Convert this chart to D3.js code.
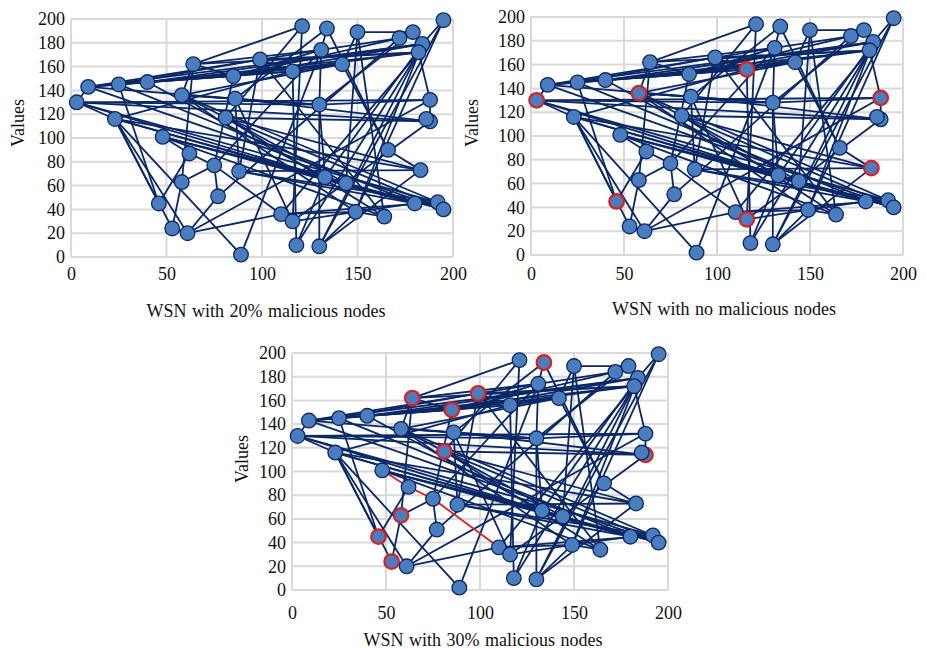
<!DOCTYPE html>
<html><head><meta charset="utf-8">
<script src="https://cdn.jsdelivr.net/npm/d3@7"></script>
<style>
body{margin:0;background:#fff}
svg{display:block}
text{font-family:"Liberation Serif","Times New Roman",serif;fill:#111}
</style>
</head><body>
<svg id="c" width="926" height="649"></svg>
<script>
// Node coordinates (ids 1..49)
const nodeX = [121,134,150,172,179,195,184,182,131,142, 99,64,116,85,40,25,9,3,58,86, 130,188,23,81,188,48,166,62,75,88, 183,133,144,58,77,46,180,192,195,110, 116,149,164,53,61,118,130,89,186];
const nodeY = [194,192,189,184,189,199,179,172,174,162, 166,162,156,152,147,145,143,130,136,133, 128,132,116,117,114,101,90,87,77,72, 73,67,62,63,51,45,45,46,40,36, 30,38,34,24,20,10,9,2,116];
// Links between node ids
const edges = [
 [1,12],[1,41],[1,24],[2,9],[2,27],[2,20],[3,5],[3,10],[3,33],[4,5],[4,9],[4,35],
 [5,7],[5,21],[6,7],[6,47],[6,42],[7,14],[7,17],[7,32],[8,22],[8,11],[8,15],[8,46],[8,40],
 [9,21],[9,14],[9,48],[10,13],[10,27],[10,19],[11,13],[11,30],[11,43],[12,19],[12,14],
 [13,46],[13,23],[14,15],[14,29],[15,16],[15,32],[15,7],[16,17],[16,37],[16,36],[16,10],
 [17,18],[17,20],[17,39],[17,13],[18,23],[18,38],[18,33],[18,25],[18,22],[18,21],
 [19,24],[19,42],[19,20],[20,21],[20,41],[21,22],[21,47],[22,25],[22,45],
 [23,36],[23,44],[23,45],[23,48],[23,37],[24,25],[24,31],[24,43],[25,41],[25,49],
 [26,28],[26,39],[26,43],[27,31],[28,29],[29,40],[28,36],[29,35],[29,9],[30,38],[30,31],
 [32,33],[32,37],[32,46],[33,39],[33,37],[34,29],[34,44],[34,12],[35,45],
 [37,38],[37,42],[38,39],[38,40],[40,41],[40,45],[40,42],[41,42],[42,43],[42,7],
 [44,45],[47,42],[47,8],[31,47],[3,43],
 [15,13],[16,11],[17,9],[19,21],[20,25],[12,8],[14,4],[24,33],[26,32],[26,37],
 [23,31],[19,38],[30,37],[20,30],[21,32],[12,9],[14,8],[15,10],[24,39],[23,32]
];
const malicious20 = [];
const maliciousNone = [18,19,13,22,31,36,41];
const malicious30 = [2,12,11,14,24,25,34,36,44];
const route30 = [[26,28],[28,29],[29,40]];
const xTicks = [0,50,100,150,200];
const yTicks = [0,20,40,60,80,100,120,140,160,180,200];
const titles = ["WSN with 20% malicious nodes","WSN with no malicious nodes","WSN with 30% malicious nodes"];

const panels = [
 {left:71,right:453,top:19,bottom:257,titleX:266,titleY:311,tickY:274,valX:18,valY:123,mal:malicious20,route:[]},
 {left:531,right:903,top:17,bottom:255,titleX:724,titleY:309,tickY:274,valX:472,valY:123,mal:maliciousNone,route:[]},
 {left:292,right:668,top:353,bottom:590,titleX:483,titleY:640,tickY:613,valX:242,valY:459,mal:malicious30,route:route30}
];

const svg = d3.select("#c");
const navy = "#0a2766", fillBlue = "#4a7dbd", red = "#dd1f1f", grid = "#d9d9d9";

panels.forEach((p,i)=>{
  const g = svg.append("g");
  const x = d3.scaleLinear().domain([0,200]).range([p.left,p.right]);
  const y = d3.scaleLinear().domain([0,200]).range([p.bottom,p.top]);
  g.selectAll(".gx").data(xTicks).join("line")
    .attr("x1",d=>x(d)).attr("x2",d=>x(d)).attr("y1",p.top).attr("y2",p.bottom)
    .attr("stroke",grid).attr("stroke-width",2);
  g.selectAll(".gy").data(yTicks).join("line")
    .attr("x1",p.left).attr("x2",p.right).attr("y1",d=>y(d)).attr("y2",d=>y(d))
    .attr("stroke",grid).attr("stroke-width",2);
  const ax = g.append("g").attr("transform",`translate(0,${p.tickY})`)
    .call(d3.axisBottom(x).tickValues(xTicks).tickSize(0).tickPadding(0));
  ax.select(".domain").remove();
  ax.selectAll("text").attr("font-size",18).attr("dy","0.35em").attr("y",0)
    .style("font-family",'"Liberation Serif",serif').attr("fill","#111");
  const ay = g.append("g").attr("transform",`translate(${p.left-6},0)`)
    .call(d3.axisLeft(y).tickValues(yTicks).tickSize(0).tickPadding(0));
  ay.select(".domain").remove();
  ay.selectAll("text").attr("font-size",18).attr("x",0)
    .style("font-family",'"Liberation Serif",serif').attr("fill","#111");
  g.append("text").attr("transform",`translate(${p.valX},${p.valY}) rotate(-90)`)
    .attr("text-anchor","middle").attr("dominant-baseline","central")
    .attr("font-size",18).text("Values");
  g.append("text").attr("x",p.titleX).attr("y",p.titleY).attr("text-anchor","middle")
    .attr("dominant-baseline","central").attr("font-size",18).attr("word-spacing","1px").text(titles[i]);
  const isRoute = e => p.route.some(r=>(r[0]===e[0]&&r[1]===e[1])||(r[0]===e[1]&&r[1]===e[0]));
  g.selectAll(".e").data(edges).join("line")
    .attr("x1",e=>x(nodeX[e[0]-1])).attr("y1",e=>y(nodeY[e[0]-1]))
    .attr("x2",e=>x(nodeX[e[1]-1])).attr("y2",e=>y(nodeY[e[1]-1]))
    .attr("stroke",e=>isRoute(e)?red:navy).attr("stroke-width",1.8);
  const ids = nodeX.map((_,k)=>k+1);
  g.selectAll(".n").data(ids).join("circle")
    .attr("cx",k=>x(nodeX[k-1])).attr("cy",k=>y(nodeY[k-1])).attr("r",7.3)
    .attr("fill",fillBlue)
    .attr("stroke",k=>p.mal.includes(k)?red:navy)
    .attr("stroke-width",k=>p.mal.includes(k)?2.2:1.3);
});
</script>
</body></html>
